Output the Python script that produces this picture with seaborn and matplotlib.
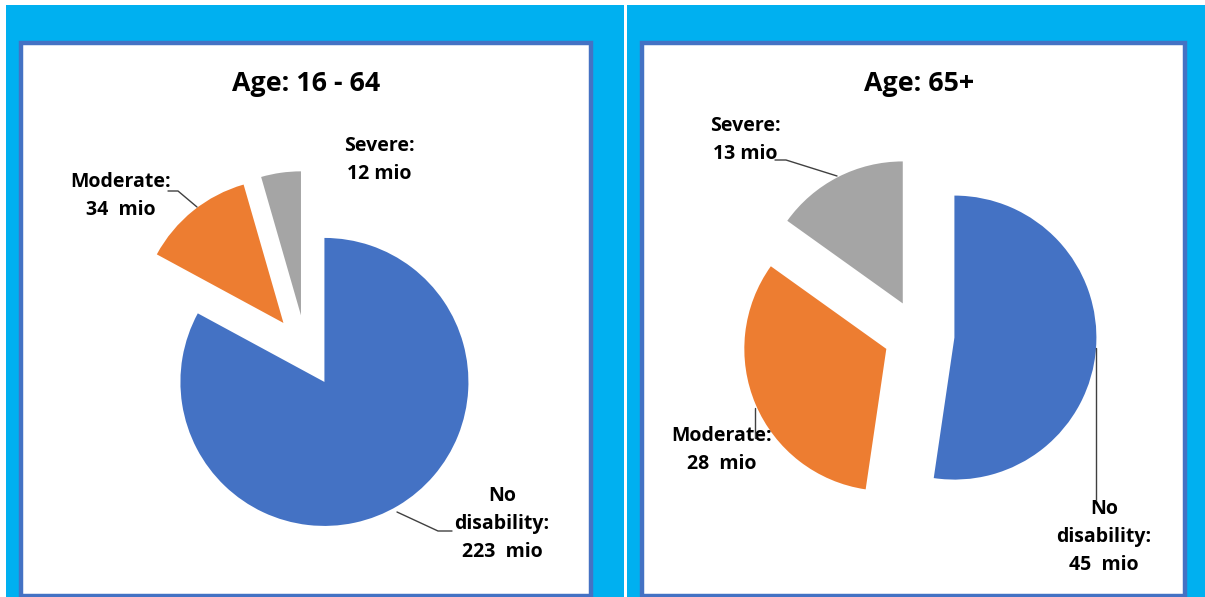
import numpy as np
import matplotlib
matplotlib.use("Agg")
import matplotlib.pyplot as plt
from matplotlib.patches import Rectangle
from matplotlib.lines import Line2D
import seaborn as sns

sns.set_theme(style="white")
plt.rcParams['font.family'] = ['Open Sans', 'DejaVu Sans']

# data
categories = ["No disability", "Moderate", "Severe"]
values_young = [223, 34, 12]
values_old = [45, 28, 13]
labels_young = ["No\ndisability:\n223  mio", "Moderate:\n34  mio", "Severe:\n12 mio"]
labels_old = ["No\ndisability:\n45  mio", "Moderate:\n28  mio", "Severe:\n13 mio"]
titles = ["Age: 16 - 64", "Age: 65+"]
colors = ["#4472C4", "#ED7D31", "#A5A5A5"]

W, H = 1205, 597
fig = plt.figure(figsize=(W / 100, H / 100), dpi=100)


def fx(px):
    return px / W


def fy(py):
    return 1 - py / H


# background: cyan frame, white divider, two white boxes with blue border
fig.patches.append(Rectangle((fx(6), 0), 1 - fx(6), fy(5), transform=fig.transFigure,
                             facecolor="#00B0F0", edgecolor="none", zorder=-3))
fig.patches.append(Rectangle((fx(624), 0), 3 / W, fy(5), transform=fig.transFigure,
                             facecolor="white", edgecolor="none", zorder=-2))
for x0, x1 in [(21, 591), (642, 1185)]:
    fig.patches.append(Rectangle((fx(x0), fy(596)), (x1 - x0) / W, (596 - 43) / H,
                                 transform=fig.transFigure, facecolor="white",
                                 edgecolor="#4472C4", linewidth=3.2, zorder=-1))

# pies: centre (px), radius (px)
pies = [
    (values_young, labels_young, titles[0], (306, 351), 144),
    (values_old, labels_old, titles[1], (919, 335), 142),
]
half = 1.5
for vals, labs, title, (cx, cy), r in pies:
    side = 2 * half * r
    ax = fig.add_axes([fx(cx - side / 2), fy(cy + side / 2), side / W, side / H])
    ax.pie(vals, colors=colors, startangle=90, counterclock=False,
           explode=[0.25] * len(vals), wedgeprops=dict(linewidth=0))
    ax.set_xlim(-half, half)
    ax.set_ylim(-half, half)
    ax.set_aspect("equal")
    ax.axis("off")
    fig.text(fx(cx), fy(84), title, ha="center", va="center",
             fontsize=19.3, fontweight="bold", color="black")

# data labels (Excel style, placed by hand)
label_pos = [
    (labels_young[2], 379, 160),
    (labels_young[1], 121, 196),
    (labels_young[0], 502, 524),
    (labels_old[2], 745, 140),
    (labels_old[1], 722, 450),
    (labels_old[0], 1104, 537),
]
for txt, x, y in label_pos:
    fig.text(fx(x), fy(y), txt, ha="center", va="center", fontsize=14,
             fontweight="bold", color="black", linespacing=1.55)

# leader lines
leaders = [
    [(168, 191), (178, 191), (197, 207)],
    [(397, 512), (438, 531), (452, 531)],
    [(775, 160), (786, 160), (837, 176)],
    [(755, 408), (755, 438)],
    [(1096, 348), (1096, 500)],
]
for pts in leaders:
    xs = [fx(p[0]) for p in pts]
    ys = [fy(p[1]) for p in pts]
    fig.lines.append(Line2D(xs, ys, transform=fig.transFigure, color="#404040",
                            linewidth=1.0, zorder=5))

fig.savefig("out.png", dpi=100)
